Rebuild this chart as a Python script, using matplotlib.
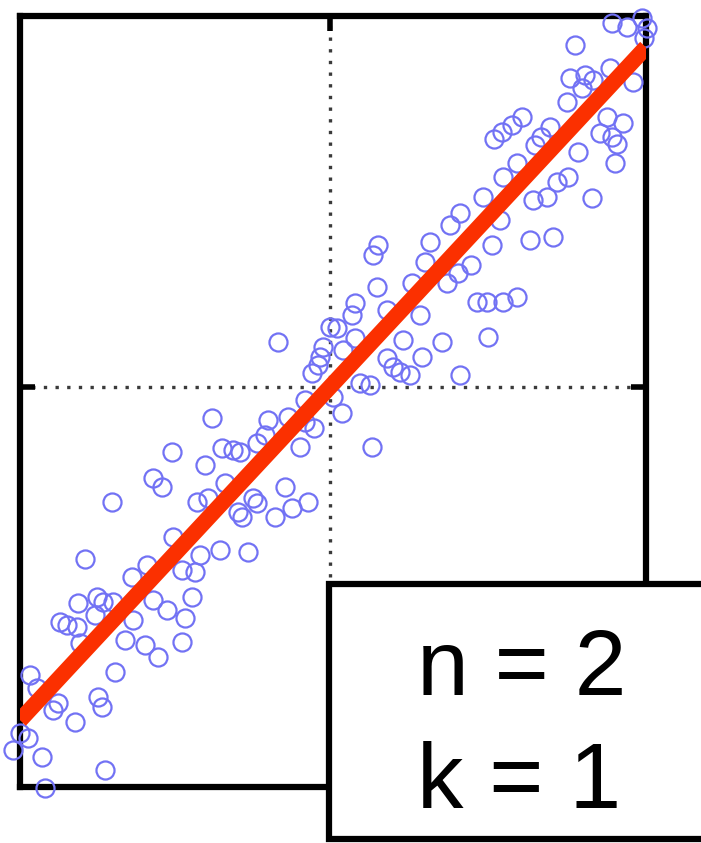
import numpy as np
import matplotlib
matplotlib.use("Agg")
import matplotlib.pyplot as plt
from matplotlib.patches import Rectangle

# Sample observations (x, y)
x_vals = [
    -2.45, -1.83, -1.98, -1.30, -1.10, -1.48, -1.35, -2.52, -2.33, -2.27,
    -2.17, -1.38, -1.77, -1.63, -2.70, -2.63, -2.53, -2.35, -1.97, -1.45,
    -2.50, -2.05, -1.85, -1.48, -1.72, -2.15, -3.00, -2.93, -2.72, -2.32,
    -2.28, -2.77, -2.55, -3.10, -3.02, -3.17, -2.88, -2.25, -2.85,
    -1.18, -0.62, -0.42, -0.25, -0.16, -1.58, -1.08, -0.97, -0.90, -0.73,
    -0.65, -0.30, -1.25, -1.77, -1.68, -2.18, -1.33, -1.22, -1.05, -0.77,
    -0.73, -0.92, -0.88, -0.45, -0.55, -0.38, -0.22, -1.57, -0.82,
    0.48, 0.43, 1.00, 0.95, 0.47, 0.82, 1.17, 1.28, 0.25, 0.57,
    0.90, 0.22, 0.00, 0.07, -0.52, 0.25, 0.73, 1.12, -0.07, -0.10,
    0.13, 0.57, 0.92, -0.12, 0.63, 0.70, 0.80, 1.30, -0.18, 0.30,
    0.40, 0.03, 0.12, -0.25, 0.42,
    2.05, 2.11, 2.20, 2.70, 2.82, 2.87, 2.48, 2.85, 1.87, 1.73,
    2.27, 2.38, 1.53, 2.03, 2.17, 2.62, 1.30, 1.20, 1.70, 1.62,
    2.00, 2.23, 1.41, 1.47, 1.57, 1.73, 1.87, 1.58, 1.92, 1.82,
    1.72, 1.64, 2.82, 2.97, 3.12, 3.17, 3.14, 2.45, 2.40, 2.55,
    2.63, 2.52, 2.80, 3.03, 2.37, 2.77, 2.93,
]
y_vals = [
    -1.72, -1.78, -1.90, -1.68, -1.63, -1.83, -1.85, -2.16, -2.10, -2.15,
    -2.15, -2.10, -2.13, -2.23, -2.35, -2.38, -2.40, -2.28, -2.33, -2.31,
    -2.56, -2.53, -2.58, -2.55, -2.70, -2.85, -2.88, -3.01, -3.16, -3.10,
    -3.20, -3.23, -3.35, -3.46, -3.51, -3.63, -3.70, -3.83, -4.01,
    -0.31, -0.33, -0.30, -0.35, -0.41, -0.65, -0.61, -0.63, -0.65, -0.56,
    -0.48, -0.60, -0.78, -0.91, -1.00, -1.15, -1.15, -1.11, -0.96, -1.11,
    -1.16, -1.25, -1.30, -1.00, -1.30, -1.21, -1.15, -1.50, -1.65,
    1.42, 1.32, 1.45, 1.25, 1.00, 1.04, 1.04, 1.14, 0.84, 0.77,
    0.72, 0.72, 0.60, 0.59, 0.45, 0.49, 0.47, 0.45, 0.40, 0.30,
    0.37, 0.29, 0.30, 0.22, 0.20, 0.15, 0.12, 0.12, 0.14, 0.04,
    0.02, -0.10, -0.26, -0.13, -0.60,
    2.42, 2.50, 2.60, 2.54, 2.50, 2.43, 2.35, 2.24, 2.24, 2.10,
    2.05, 2.10, 1.90, 1.87, 1.90, 1.89, 1.74, 1.62, 1.67, 1.42,
    1.47, 1.50, 1.22, 0.85, 0.85, 0.85, 0.90, 0.50, 2.70, 2.62,
    2.55, 2.48, 3.64, 3.60, 3.69, 3.59, 3.49, 3.42, 3.09, 3.12,
    3.07, 2.99, 3.19, 3.05, 2.85, 2.70, 2.64,
]

# Degree-1 fit drawn through the cloud
fit_slope = 1.075
fit_intercept = 0.0

x_limits = (-3.10, 3.16)
y_limits = (-4.00, 3.71)

box_lines = ["n = 2", "k = 1"]

W, H = 701, 843
fig = plt.figure(figsize=(W / 100, H / 100), dpi=100)
fig.patch.set_facecolor("white")

ax = fig.add_axes([20 / W, 1 - 787 / H, 626 / W, 771 / H])
ax.set_xlim(*x_limits)
ax.set_ylim(*y_limits)

# Single dotted grid line through the origin on each axis
ax.set_xticks([0])
ax.set_yticks([0])
ax.set_xticklabels([])
ax.set_yticklabels([])
ax.tick_params(direction="in", length=11, width=4, color="black",
               top=True, right=True, bottom=True, left=True)
ax.grid(True, linestyle=(0, (1, 2.5)), linewidth=2.4, color="#3a3a3a", zorder=1)
ax.set_axisbelow(True)
for sp in ax.spines.values():
    sp.set_linewidth(4.5)
    sp.set_color("black")

ax.plot(x_vals, y_vals, "o", mfc="none", mec="#7272f4", ms=13, mew=1.6,
        clip_on=False, zorder=3)

xs = np.array(x_limits)
ax.plot(xs, fit_slope * xs + fit_intercept, color="#fb3000", lw=11.5,
        solid_capstyle="butt", zorder=4)

# Annotation box in the lower right corner
box = Rectangle((329 / W, 1 - 839 / H), 1.0, (839 - 584) / H,
                transform=fig.transFigure, facecolor="white",
                edgecolor="black", linewidth=4.5, zorder=10)
fig.patches.append(box)
fig.text(417 / W, 1 - 695 / H, box_lines[0], fontsize=67,
         family="Liberation Sans", va="baseline", ha="left", zorder=11)
fig.text(417 / W, 1 - 808 / H, box_lines[1], fontsize=67,
         family="Liberation Sans", va="baseline", ha="left", zorder=11)

fig.savefig("out.png", dpi=100, facecolor="white")
